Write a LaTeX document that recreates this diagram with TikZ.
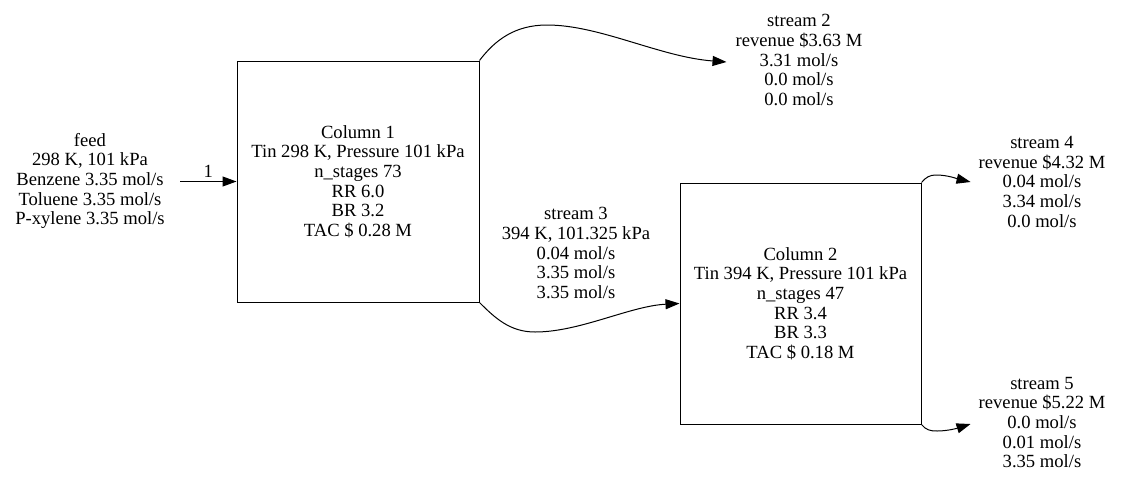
\documentclass[tikz,border=0pt]{standalone}
\usepackage{fontspec}
\setmainfont{Liberation Serif}
\newfontfamily\tnr{Liberation Serif}
\usetikzlibrary{arrows.meta}
\begin{document}
\begin{tikzpicture}[x=1pt,y=-1pt,
  every node/.style={font=\tnr\fontsize{18.6}{19.7}\selectfont},
  txt/.style={align=center,inner sep=0pt},
  colbox/.style={draw,line width=1pt,align=center,inner sep=0pt},
  flow/.style={line width=1pt,-{Triangle[length=14pt,width=10pt]}}]
\useasboundingbox (0,0) rectangle (1123,485);
\node[txt] (feed) at (90,181) {feed\\298 K, 101 kPa\\Benzene 3.35 mol/s\\Toluene 3.35 mol/s\\P-xylene 3.35 mol/s};
\node[colbox,minimum width=242pt,minimum height=241pt] (c1) at (358,181.5) {Column 1\\Tin 298 K, Pressure 101 kPa\\n\_stages 73\\RR 6.0\\BR 3.2\\TAC \$ 0.28 M};
\node[colbox,minimum width=241pt,minimum height=241pt] (c2) at (800.5,303.5) {Column 2\\Tin 394 K, Pressure 101 kPa\\n\_stages 47\\RR 3.4\\BR 3.3\\TAC \$ 0.18 M};
\node[txt] (s2) at (799,60) {stream 2\\revenue \$3.63 M\\3.31 mol/s\\0.0 mol/s\\0.0 mol/s};
\node[txt] (s3) at (576,253) {stream 3\\394 K, 101.325 kPa\\0.04 mol/s\\3.35 mol/s\\3.35 mol/s};
\node[txt] (s4) at (1042,182) {stream 4\\revenue \$4.32 M\\0.04 mol/s\\3.34 mol/s\\0.0 mol/s};
\node[txt] (s5) at (1042,422.5) {stream 5\\revenue \$5.22 M\\0.0 mol/s\\0.01 mol/s\\3.35 mol/s};
\coordinate (fo) at (180,181.5);
\draw[flow] (fo) -- node[above=4pt,inner sep=0pt] (l1) {1} (c1.west);
\draw[flow] (c1.north east) .. controls (495,40) and (515,25) .. (547,25)
  .. controls (600,25) and (660,57) .. ([xshift=-9pt]s2.west |- 0,62);
\draw[flow] (c1.south east) .. controls (495,318) and (510,332) .. (535,332)
  .. controls (580,332) and (630,306) .. (c2.west);
\draw[flow] (c2.north east) .. controls (926,177) and (930,175) .. (936,175)
  .. controls (948,175) and (958,179) .. ([xshift=-8pt]s4.west |- 0,182);
\draw[flow] (c2.south east) .. controls (926,430) and (930,431) .. (937,431)
  .. controls (948,431) and (958,428) .. ([xshift=-8pt]s5.west |- 0,424);
\end{tikzpicture}
\end{document}
